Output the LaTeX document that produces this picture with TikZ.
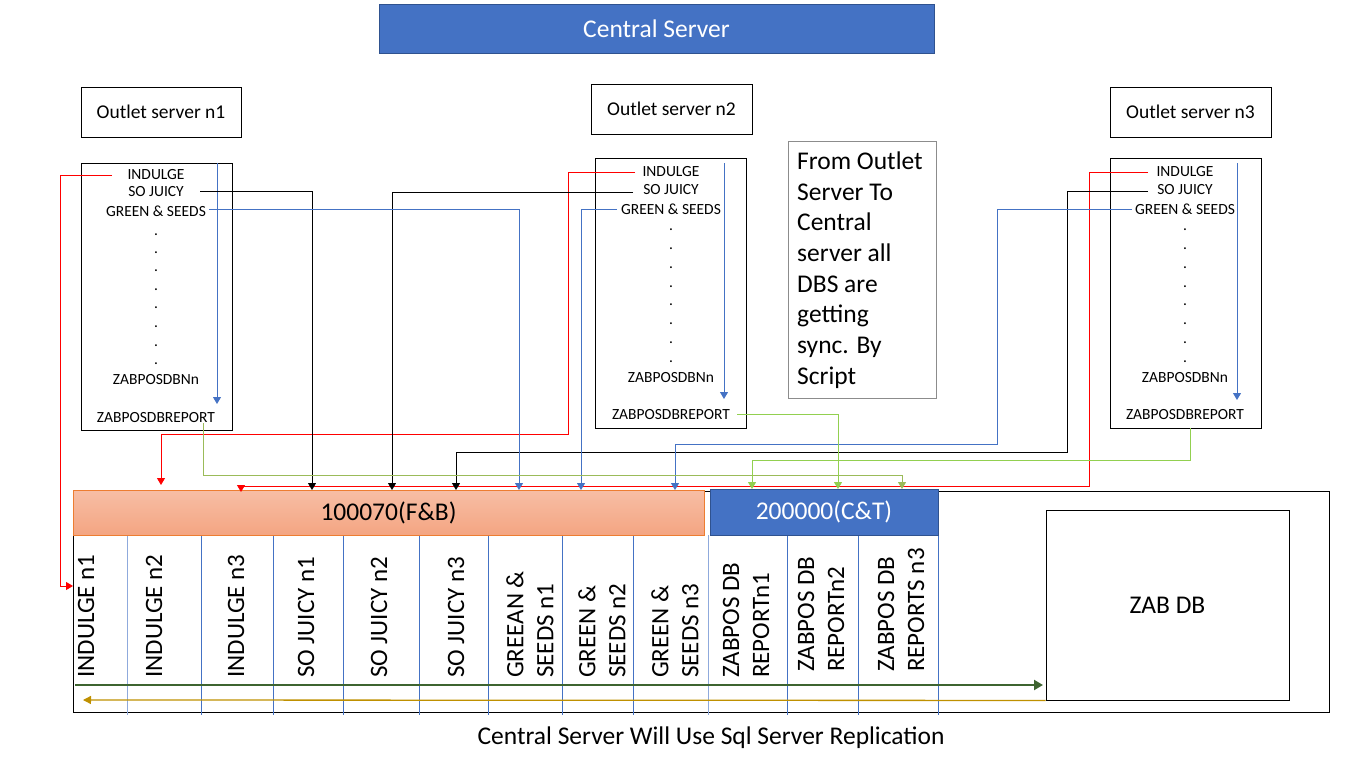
\documentclass[tikz,border=0pt]{standalone}
\usepackage{fontspec}
\setmainfont{Carlito}
\usetikzlibrary{arrows.meta}
\definecolor{cblue}{HTML}{4472C4}
\definecolor{cbluedark}{HTML}{2F528F}
\definecolor{corange}{HTML}{ED7D31}
\definecolor{otop}{HTML}{F7BEA5}
\definecolor{obot}{HTML}{F4A582}
\definecolor{cgreen}{HTML}{92D050}
\definecolor{cgreenb}{HTML}{9BBB59}
\definecolor{dgreen}{HTML}{3E6430}
\definecolor{cgold}{HTML}{BF9000}
\definecolor{cred}{HTML}{FF0000}
\definecolor{cgray}{HTML}{8C8C8C}
\definecolor{lblue}{HTML}{8FAADC}
\begin{document}
\begin{tikzpicture}[x=1pt,y=-1pt,
  box/.style={draw=black, line width=0.9pt, inner sep=0},
  dbtxt/.style={font=\fontsize{15.5}{18}\selectfont, inner sep=0},
  conn/.style={line width=1pt},
  arr/.style={-{Triangle[width=8pt,length=7pt]}},
  collbl/.style={rotate=90, anchor=west, align=left, inner sep=0, font=\fontsize{25}{30}\selectfont},
  sep/.style={draw=cblue, line width=0.8pt},
  big/.style={font=\fontsize{25.5}{30}\selectfont}]
\useasboundingbox (0,0) rectangle (1366,768);

% Central server
\node[fill=cblue, draw=cbluedark, line width=0.8pt, minimum width=555pt, minimum height=49pt, text=white, big] (central) at (656.5,28.5) {Central Server};

% Outlet servers
\node[box, minimum width=160pt, minimum height=50pt, font=\fontsize{19.5}{24}\selectfont] (o1) at (161,112) {Outlet server n1};
\node[box, minimum width=161pt, minimum height=50pt, font=\fontsize{19.5}{24}\selectfont] (o2) at (671.5,109) {Outlet server n2};
\node[box, minimum width=161pt, minimum height=50pt, font=\fontsize{19.5}{24}\selectfont] (o3) at (1190.5,112) {Outlet server n3};

% DB list boxes
\node[box, minimum width=151pt, minimum height=267pt] (db1) at (156.5,296.5) {};
\node[box, minimum width=151pt, minimum height=270pt] (db2) at (670.5,293) {};
\node[box, minimum width=151pt, minimum height=270pt] (db3) at (1185.5,293) {};

% box 1 texts
\node[dbtxt] (a1) at (156,175) {INDULGE};
\node[dbtxt] (a2) at (156,192) {SO JUICY};
\node[dbtxt] (a3) at (156,211) {GREEN \& SEEDS};
\foreach \yy [count=\i] in {235,253,271,290,308,327,346,364} \node[dbtxt] (ad\i) at (156,\yy) {.};
\node[dbtxt] (a4) at (156,380) {ZABPOSDBNn};
\node[dbtxt] (a5) at (156,418) {ZABPOSDBREPORT};
% box 2 texts
\node[dbtxt] (b1) at (671,172) {INDULGE};
\node[dbtxt] (b2) at (671,190) {SO JUICY};
\node[dbtxt] (b3) at (671,209) {GREEN \& SEEDS};
\foreach \yy [count=\i] in {230,249,268,287,305,324,343,362} \node[dbtxt] (bd\i) at (671,\yy) {.};
\node[dbtxt] (b4) at (671,378) {ZABPOSDBNn};
\node[dbtxt] (b5) at (671,415) {ZABPOSDBREPORT};
% box 3 texts
\node[dbtxt] (c1) at (1185,172) {INDULGE};
\node[dbtxt] (c2) at (1185,190) {SO JUICY};
\node[dbtxt] (c3) at (1185,209) {GREEN \& SEEDS};
\foreach \yy [count=\i] in {230,249,268,287,305,324,343,362} \node[dbtxt] (cd\i) at (1185,\yy) {.};
\node[dbtxt] (c4) at (1185,378) {ZABPOSDBNn};
\node[dbtxt] (c5) at (1185,415) {ZABPOSDBREPORT};

% note
\node[draw=cgray, line width=0.8pt, minimum width=148pt, minimum height=257pt] (note) at (862,269.5) {};
\node[anchor=north west, align=left, inner sep=0, font=\fontsize{25.5}{30.7}\selectfont] (notetxt) at (797,151.5) {From Outlet\\Server To\\Central\\server all\\DBS are\\getting\\sync. By\\Script};

% bottom table
\node[draw=black, line width=0.9pt, minimum width=1256pt, minimum height=221pt] (outer) at (701,601.5) {};
\foreach \xx in {201,273,343,419,488,562,633,787,858,938} \draw[sep] (\xx,535) -- (\xx,715);
\foreach \xx in {127,708} \draw[draw=lblue, line width=0.9pt] (\xx,535) -- (\xx,715);
\node[draw=corange, line width=0.9pt, top color=otop, bottom color=obot, minimum width=631pt, minimum height=45pt, big] (fb) at (388.5,512.5) {100070(F\&B)};
\node[draw=cbluedark, fill=cblue, line width=0.8pt, minimum width=228pt, minimum height=46pt, text=white, big] (ct) at (824,512) {200000(C\&T)};
\node[box, minimum width=243pt, minimum height=190pt, big] (zab) at (1167.5,605) {ZAB DB};

\node[collbl] (k1) at (86,678) {INDULGE n1};
\node[collbl] (k2) at (154,678) {INDULGE n2};
\node[collbl] (k3) at (236,678) {INDULGE n3};
\node[collbl] (k4) at (306,678) {SO JUICY n1};
\node[collbl] (k5) at (379,678) {SO JUICY n2};
\node[collbl] (k6) at (456,678) {SO JUICY n3};
\node[collbl] (k7) at (530,678) {GREEAN \&\\SEEDS n1};
\node[collbl] (k8) at (602,678) {GREEN \&\\SEEDS n2};
\node[collbl] (k9) at (675,678) {GREEN \&\\SEEDS n3};
\node[collbl] (k10) at (746,678) {ZABPOS DB\\REPORTn1};
\node[collbl] (k11) at (821,672) {ZABPOS DB\\REPORTn2};
\node[collbl] (k12) at (901,672) {ZABPOS DB\\REPORTS n3};

\coordinate (gs) at (75,685);
\coordinate (ge) at (1043,685);
\draw[dgreen, line width=2.2pt, -{Triangle[width=10pt,length=9pt]}] (gs) -- (ge);
\coordinate (ye) at (83,700);
\draw[cgold, line width=1.3pt, -{Triangle[width=8pt,length=8pt]}] (zab.south west) -- (ye);

\node[big] (cap) at (711,738) {Central Server Will Use Sql Server Replication};

% internal blue arrows
\coordinate (ia1) at (217,163); \coordinate (ia1e) at (217,404);
\coordinate (ia2) at (724,163); \coordinate (ia2e) at (724,399);
\coordinate (ia3) at (1237,163); \coordinate (ia3e) at (1237,400);
\draw[cblue, conn, arr] (ia1) -- (ia1e);
\draw[cblue, conn, arr] (ia2) -- (ia2e);
\draw[cblue, conn, arr] (ia3) -- (ia3e);

% red connectors
\coordinate (r1s) at (112,175); \coordinate (r1e) at (73,586);
\coordinate (r2s) at (635,172); \coordinate (r2e) at (161,485);
\coordinate (r3s) at (1148,172); \coordinate (r3e) at (241,492);
\draw[cred, conn, arr] (r1s) -- (60,175) -- (60,586) -- (r1e);
\draw[cred, conn, arr] (r2s) -- (568,172) -- (568,434) -- (161,434) -- (r2e);
\draw[cred, conn, arr] (r3s) -- (1089,172) -- (1089,486.5) -- (241,486.5) -- (r3e);

% black connectors
\coordinate (k1s) at (200,191); \coordinate (k1e) at (312,490);
\coordinate (k2s) at (633,192); \coordinate (k2e) at (392,490);
\coordinate (k3s) at (1148,191); \coordinate (k3e) at (456,490);
\draw[black, conn, arr] (k1s) -- (312,191) -- (k1e);
\draw[black, conn, arr] (k2s) -- (392,192) -- (k2e);
\draw[black, conn, arr] (k3s) -- (1067,191) -- (1067,452) -- (456,452) -- (k3e);

% blue connectors
\coordinate (b1s) at (209,209); \coordinate (b1e) at (519,490);
\coordinate (b2s) at (617,209); \coordinate (b2e) at (581,490);
\coordinate (b3s) at (1132,209); \coordinate (b3e) at (675,490);
\draw[cblue, conn, arr] (b1s) -- (519,209) -- (b1e);
\draw[cblue, conn, arr] (b2s) -- (581,209) -- (b2e);
\draw[cblue, conn, arr] (b3s) -- (997,209) -- (997,444) -- (675,444) -- (b3e);

% green connectors
\coordinate (g1e) at (902,489);
\coordinate (g2s) at (737,414); \coordinate (g2e) at (838,489);
\coordinate (g3e) at (752,489);
\draw[cgreenb, conn, arr] (a5.south -| 203,0) -- (203,475) -- (902,475) -- (g1e);
\draw[cgreen, conn, arr] (g2s) -- (838,414) -- (g2e);
\draw[cgreen, conn, arr] (db3.south -| 1190,0) -- (1190,460) -- (752,460) -- (g3e);
\end{tikzpicture}
\end{document}
